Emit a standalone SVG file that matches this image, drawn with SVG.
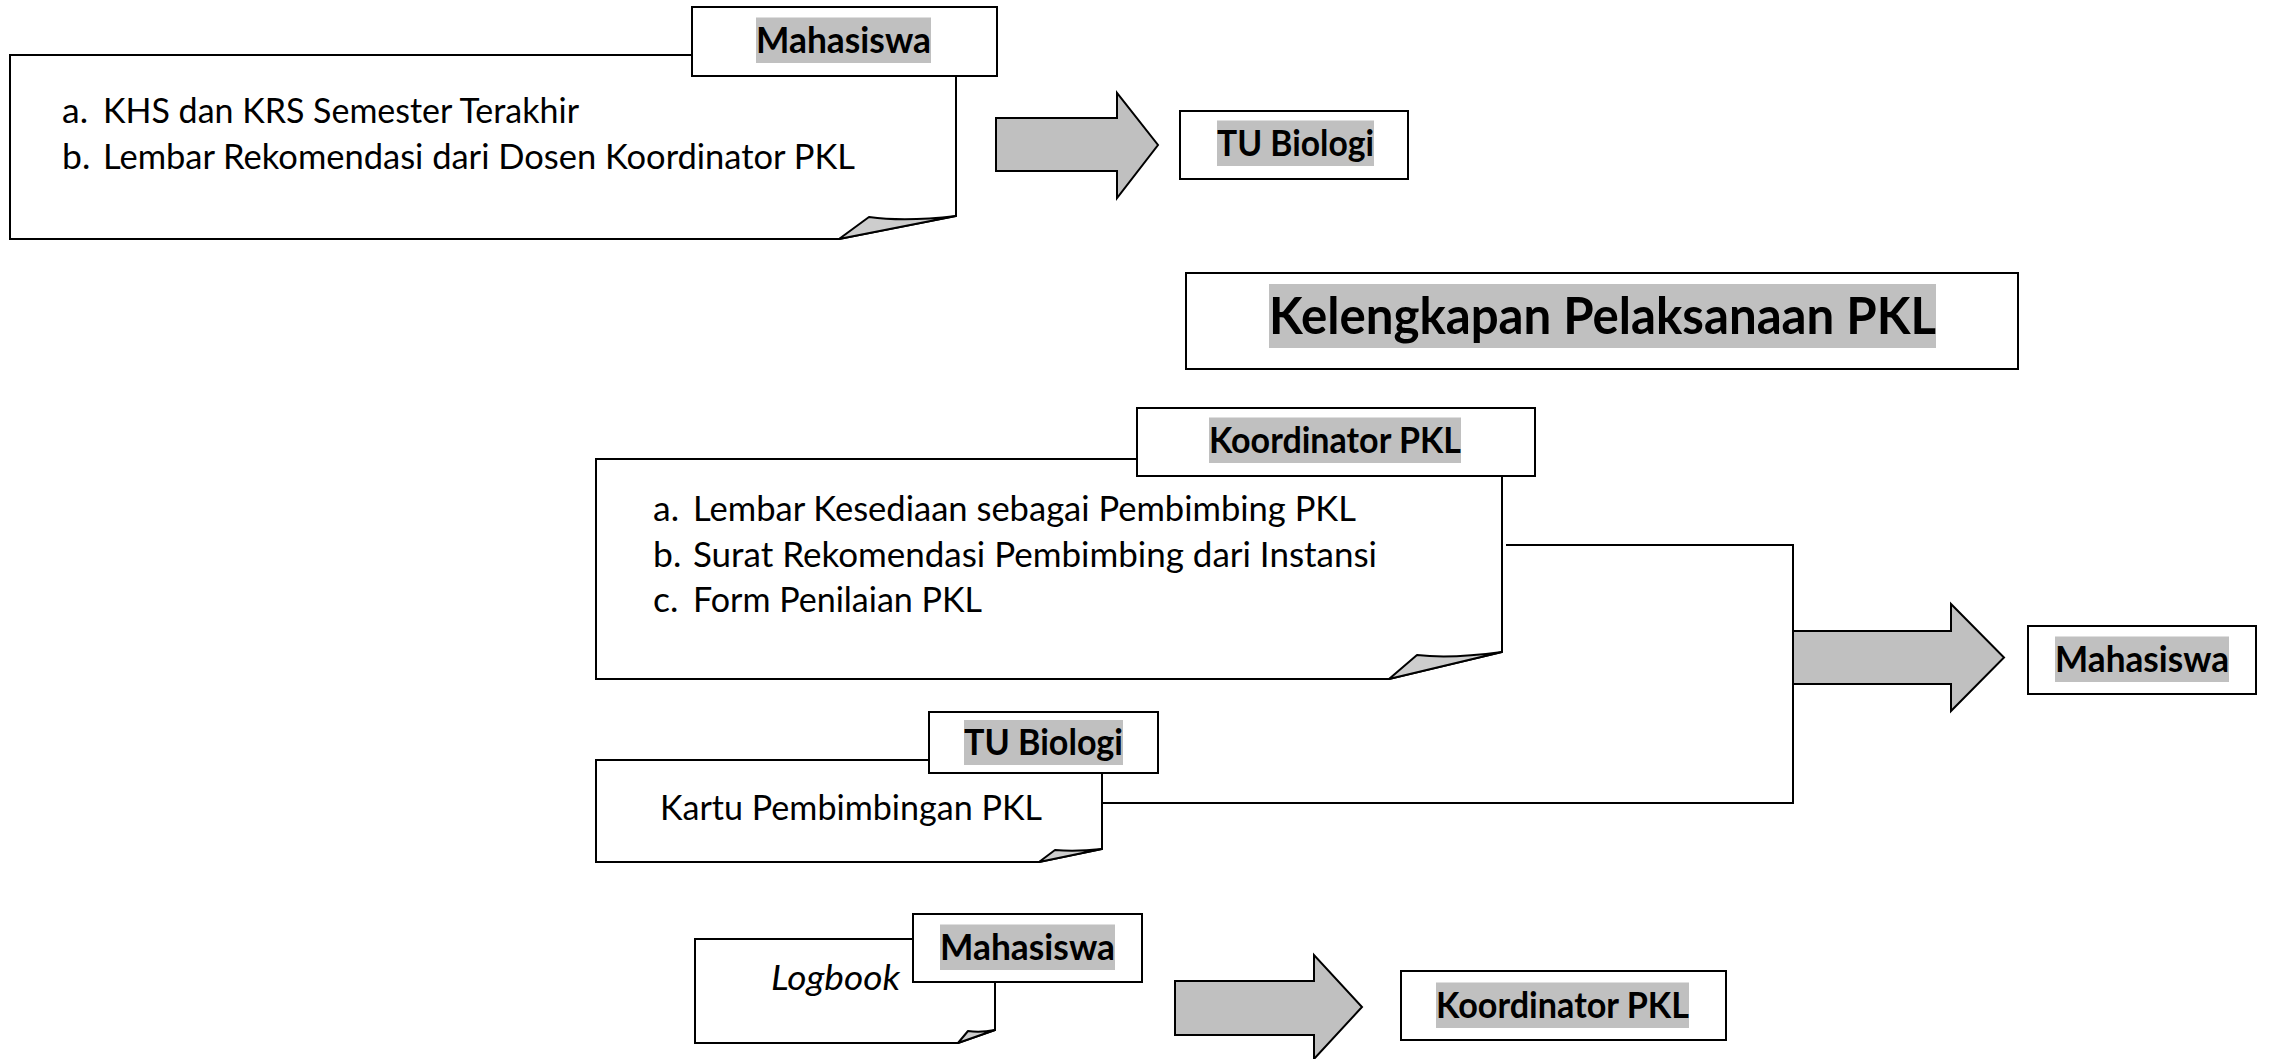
<svg xmlns="http://www.w3.org/2000/svg" width="2269" height="1059" viewBox="0 0 2269 1059">
<style>
.doc{fill:#fff;stroke:#000;stroke-width:2;stroke-linejoin:miter}
.fold{fill:#cdcdcd;stroke:#000;stroke-width:2;stroke-linejoin:round}
.box{fill:#fff;stroke:#000;stroke-width:2}
.hl{fill:#c0c0c0}
.lbl{font-family:Lato,"Liberation Sans",sans-serif;font-weight:bold;font-size:36px;fill:#000}
.body{font-family:Lato,"Liberation Sans",sans-serif;font-size:35.5px;fill:#000}
.title{font-family:Lato,"Liberation Sans",sans-serif;font-weight:bold;font-size:51px;fill:#000}
.arrow{fill:#c0c0c0;stroke:#000;stroke-width:2;stroke-linejoin:miter}
.line{fill:none;stroke:#000;stroke-width:2}
</style>
<rect width="2269" height="1059" fill="#fff"/>

<g id="connectors">
<polyline class="line" points="1506,545 1793,545 1793,803 1103,803"/>
<polygon class="arrow" points="996,118 1117,118 1117,93 1158,145 1117,198 1117,171 996,171"/>
<polygon class="arrow" points="1793,631 1951,631 1951,604 2004,657.5 1951,711 1951,684 1793,684"/>
<polygon class="arrow" points="1175,981 1314,981 1314,955 1362,1007 1314,1059 1314,1035 1175,1035"/>
</g>

<g id="doc-mahasiswa-1">
<path class="doc" d="M10,55 H956 V216 L839,239 H10 Z"/>
<path class="fold" d="M839,239 L869,217 Q905,222 956,216 Z"/>
<text class="body" x="62" y="123">a.</text>
<text class="body" x="103" y="123" textLength="476" lengthAdjust="spacingAndGlyphs">KHS dan KRS Semester Terakhir</text>
<text class="body" x="62" y="168.5">b.</text>
<text class="body" x="103" y="168.5" textLength="752" lengthAdjust="spacingAndGlyphs">Lembar Rekomendasi dari Dosen Koordinator PKL</text>
</g>
<g id="label-mahasiswa-1">
<rect class="box" x="692" y="7" width="305" height="69"/>
<rect class="hl" x="756" y="17.5" width="175" height="45.5"/>
<text class="lbl" x="756" y="53" textLength="175" lengthAdjust="spacingAndGlyphs">Mahasiswa</text>
</g>

<g id="tu-biologi-1">
<rect class="box" x="1180" y="111" width="228" height="68"/>
<rect class="hl" x="1217" y="120.5" width="157" height="45.5"/>
<text class="lbl" x="1217" y="156" textLength="157" lengthAdjust="spacingAndGlyphs">TU Biologi</text>
</g>

<g id="title">
<rect class="box" x="1186" y="273" width="832" height="96"/>
<rect class="hl" x="1269" y="284" width="667" height="64"/>
<text class="title" x="1269" y="334" textLength="667" lengthAdjust="spacingAndGlyphs">Kelengkapan Pelaksanaan PKL</text>
</g>

<g id="doc-koordinator">
<path class="doc" d="M596,459 H1502 V652 L1389,679 H596 Z"/>
<path class="fold" d="M1389,679 L1417,655 Q1450,659 1502,652 Z"/>
<text class="body" x="653" y="521">a.</text>
<text class="body" x="693" y="521" textLength="663" lengthAdjust="spacingAndGlyphs">Lembar Kesediaan sebagai Pembimbing PKL</text>
<text class="body" x="653" y="566.5">b.</text>
<text class="body" x="693" y="566.5" textLength="684" lengthAdjust="spacingAndGlyphs">Surat Rekomendasi Pembimbing dari Instansi</text>
<text class="body" x="653" y="612">c.</text>
<text class="body" x="693" y="612" textLength="289" lengthAdjust="spacingAndGlyphs">Form Penilaian PKL</text>
</g>
<g id="label-koordinator-1">
<rect class="box" x="1137" y="408" width="398" height="68"/>
<rect class="hl" x="1209" y="417.5" width="252" height="45.5"/>
<text class="lbl" x="1209" y="453" textLength="252" lengthAdjust="spacingAndGlyphs">Koordinator PKL</text>
</g>

<g id="mahasiswa-target">
<rect class="box" x="2028" y="626" width="228" height="68"/>
<rect class="hl" x="2055" y="636.5" width="174" height="45.5"/>
<text class="lbl" x="2055" y="672" textLength="174" lengthAdjust="spacingAndGlyphs">Mahasiswa</text>
</g>

<g id="doc-kartu">
<path class="doc" d="M596,760 H1102 V849 L1039,862 H596 Z"/>
<path class="fold" d="M1039,862 L1055,850 Q1075,852 1102,849 Z"/>
<text class="body" x="660" y="820" textLength="382" lengthAdjust="spacingAndGlyphs">Kartu Pembimbingan PKL</text>
</g>
<g id="label-tu-biologi-2">
<rect class="box" x="929" y="712" width="229" height="61"/>
<rect class="hl" x="964" y="720" width="159" height="45"/>
<text class="lbl" x="964" y="755" textLength="159" lengthAdjust="spacingAndGlyphs">TU Biologi</text>
</g>

<g id="doc-logbook">
<path class="doc" d="M695,939 H995 V1030 L958,1043 H695 Z"/>
<path class="fold" d="M958,1043 L968,1031 Q980,1033 995,1030 Z"/>
<text class="body" x="771" y="990" font-style="italic" textLength="129" lengthAdjust="spacingAndGlyphs">Logbook</text>
</g>
<g id="label-mahasiswa-2">
<rect class="box" x="913" y="914" width="229" height="68"/>
<rect class="hl" x="940" y="924.5" width="175" height="45.5"/>
<text class="lbl" x="940" y="960" textLength="175" lengthAdjust="spacingAndGlyphs">Mahasiswa</text>
</g>

<g id="koordinator-target">
<rect class="box" x="1401" y="971" width="325" height="69"/>
<rect class="hl" x="1436" y="982.5" width="253" height="45.5"/>
<text class="lbl" x="1436" y="1018" textLength="253" lengthAdjust="spacingAndGlyphs">Koordinator PKL</text>
</g>
</svg>
